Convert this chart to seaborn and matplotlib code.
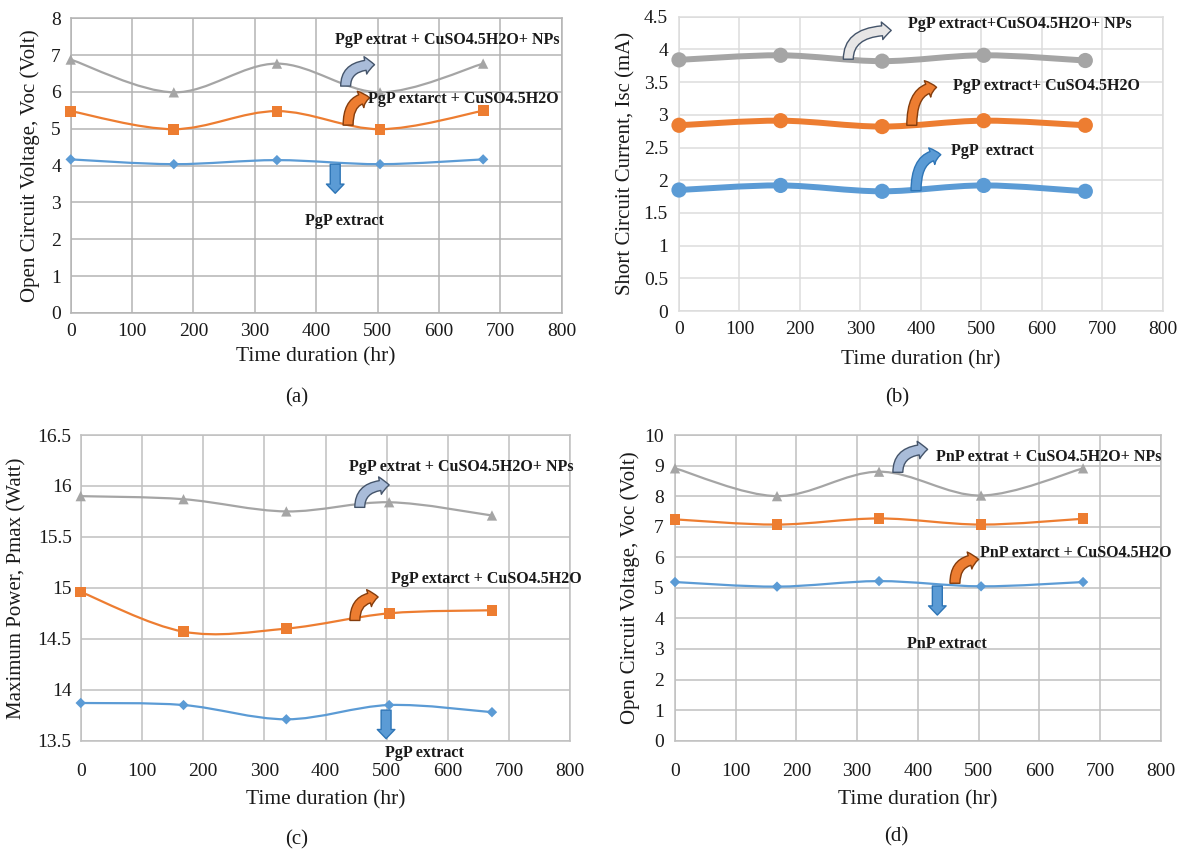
import numpy as np
import pandas as pd
import matplotlib
matplotlib.use("Agg")
import matplotlib.pyplot as plt
import seaborn as sns
from matplotlib.path import Path
from matplotlib.patches import PathPatch
from matplotlib.ticker import FuncFormatter, MultipleLocator

# ---------------- data ----------------
hours = [0, 168, 336, 504, 672]

# (a) PgP open circuit voltage (V)
voc_pgp_extract = [4.17, 4.04, 4.15, 4.04, 4.17]
voc_pgp_cuso4 = [5.48, 4.99, 5.48, 4.99, 5.49]
voc_pgp_nps = [6.88, 5.99, 6.77, 5.99, 6.77]

# (b) PgP short circuit current (mA)
isc_pgp_extract = [1.85, 1.92, 1.83, 1.92, 1.83]
isc_pgp_cuso4 = [2.84, 2.91, 2.82, 2.91, 2.84]
isc_pgp_nps = [3.84, 3.91, 3.82, 3.91, 3.83]

# (c) PgP maximum power (W)
pmax_pgp_extract = [13.87, 13.85, 13.71, 13.85, 13.78]
pmax_pgp_cuso4 = [14.96, 14.57, 14.60, 14.75, 14.78]
pmax_pgp_nps = [15.90, 15.87, 15.75, 15.84, 15.71]

# (d) PnP open circuit voltage (V)
voc_pnp_extract = [5.19, 5.04, 5.22, 5.05, 5.19]
voc_pnp_cuso4 = [7.24, 7.07, 7.27, 7.07, 7.26]
voc_pnp_nps = [8.91, 8.00, 8.80, 8.02, 8.91]

x_ticks = [0, 100, 200, 300, 400, 500, 600, 700, 800]
x_label = "Time duration (hr)"
panel_letters = ["(a)", "(b)", "(c)", "(d)"]

BLUE, ORANGE, GRAY = "#5B9BD5", "#ED7D31", "#A5A5A5"

sns.set_theme(style="whitegrid")
plt.rcParams["font.family"] = ["Liberation Serif", "DejaVu Serif"]
plt.rcParams["text.color"] = "#1a1a1a"
plt.rcParams["axes.labelcolor"] = "#1a1a1a"
plt.rcParams["xtick.color"] = "#1a1a1a"
plt.rcParams["ytick.color"] = "#1a1a1a"

fig = plt.figure(figsize=(11.82, 8.52), dpi=100)
fig.patch.set_facecolor("white")


def smooth_path(xs, ys):
    pts = np.column_stack([xs, ys]).astype(float)
    n = len(pts)
    verts = [pts[0]]
    codes = [Path.MOVETO]
    for i in range(n - 1):
        p0 = pts[max(i - 1, 0)]
        p1 = pts[i]
        p2 = pts[i + 1]
        p3 = pts[min(i + 2, n - 1)]
        c1 = p1 + (p2 - p0) / 6.0
        c2 = p2 - (p3 - p1) / 6.0
        verts += [c1, c2, p2]
        codes += [Path.CURVE4] * 3
    return Path(verts, codes)


def draw_panel(rect, series, ylim, ystep, ylabel, grid_color, ylabel_x, xlabel_y,
               xpad, ypad, lw, marker_map, size_map, annotations, arrows):
    ax = fig.add_axes(rect)
    ax.set_facecolor("white")
    rows = []
    for name, vals, color in series:
        for h, v in zip(hours, vals):
            rows.append({"hours": h, "value": v, "series": name})
        patch = PathPatch(smooth_path(hours, vals), facecolor="none", edgecolor=color,
                          lw=lw, zorder=2, capstyle="round", joinstyle="round",
                          clip_on=False)
        ax.add_patch(patch)
    df = pd.DataFrame(rows)
    palette = {name: color for name, _, color in series}
    sns.scatterplot(data=df, x="hours", y="value", hue="series", style="series",
                    size="series", sizes=size_map, markers=marker_map, palette=palette,
                    linewidth=0, legend=False, ax=ax, zorder=3, clip_on=False)
    ax.set_xlim(0, 800)
    ax.set_ylim(*ylim)
    ax.set_xticks(x_ticks)
    ax.yaxis.set_major_locator(MultipleLocator(ystep))
    ax.yaxis.set_major_formatter(FuncFormatter(lambda v, p: f"{v:g}"))
    ax.grid(True, color=grid_color, lw=1.1)
    for s in ax.spines.values():
        s.set_visible(True)
        s.set_color(grid_color)
        s.set_linewidth(1.1)
    ax.tick_params(axis="x", length=0, pad=xpad, labelsize=14)
    ax.tick_params(axis="y", length=0, pad=ypad, labelsize=14)
    ax.set_xlabel(x_label, fontsize=15.5)
    ax.set_ylabel(ylabel, fontsize=15)
    ax.yaxis.set_label_coords(ylabel_x, 0.5)
    ax.xaxis.set_label_coords(0.5, xlabel_y)
    for (tx, ty, txt) in annotations:
        ax.text(tx, ty, txt, fontsize=11.5, fontweight="bold", ha="left", va="center",
                color="#1a1a1a", zorder=5, clip_on=False)
    for (x0, y0, x1, y1, fc, ec, bent) in arrows:
        cs = "angle3,angleA=90,angleB=0" if bent else "arc3"
        ax.annotate("", xy=(x1, y1), xytext=(x0, y0), zorder=4,
                    arrowprops=dict(arrowstyle="simple,head_length=0.6,head_width=1.15,tail_width=0.65",
                                    connectionstyle=cs, fc=fc, ec=ec, lw=1.0,
                                    mutation_scale=11, shrinkA=0, shrinkB=0),
                    annotation_clip=False)
    return ax


tri_sq_dia = {"nps": "^", "cuso4": "s", "extract": "D"}
sizes_small = {"nps": 55, "cuso4": 60, "extract": 28}

# (a)
draw_panel(
    [70.7 / 1182, 1 - 313 / 852, 491 / 1182, 294.7 / 852],
    [("extract", voc_pgp_extract, BLUE), ("cuso4", voc_pgp_cuso4, ORANGE), ("nps", voc_pgp_nps, GRAY)],
    (0, 8), 1, "Open Circuit Voltage, Voc (Volt)", "#b4b4b4", -0.0625, -0.115,
    7, 7, 1.6, tri_sq_dia, sizes_small,
    [(430, 7.4, "PgP extrat + CuSO4.5H2O+ NPs"),
     (485, 5.8, "PgP extarct + CuSO4.5H2O"),
     (381, 2.5, "PgP extract")],
    [(448, 6.16, 495, 6.74, "#A9BCD9", "#44546A", True),
     (452, 5.10, 487, 5.84, ORANGE, "#843C0C", True),
     (431, 4.04, 431, 3.25, BLUE, "#2E75B6", False)],
)

# (b)
draw_panel(
    [679 / 1182, 1 - 311 / 852, 483.7 / 1182, 294.3 / 852],
    [("extract", isc_pgp_extract, BLUE), ("cuso4", isc_pgp_cuso4, ORANGE), ("nps", isc_pgp_nps, GRAY)],
    (0, 4.5), 0.5, "Short Circuit Current, Isc (mA)", "#dcdcdc", -0.089, -0.133,
    7, 8, 4.3, {"nps": "o", "cuso4": "o", "extract": "o"},
    {"nps": 120, "cuso4": 120, "extract": 120},
    [(379, 4.39, "PgP extract+CuSO4.5H2O+ NPs"),
     (453, 3.44, "PgP extract+ CuSO4.5H2O"),
     (450, 2.45, "PgP  extract")],
    [(280, 3.85, 351, 4.29, "#E7E6E6", "#44546A", True),
     (385, 2.84, 426, 3.42, ORANGE, "#843C0C", True),
     (392, 1.84, 433, 2.39, BLUE, "#2E75B6", True)],
)

# (c)
draw_panel(
    [80.7 / 1182, 1 - 740.7 / 852, 489.6 / 1182, 305.7 / 852],
    [("extract", pmax_pgp_extract, BLUE), ("cuso4", pmax_pgp_cuso4, ORANGE), ("nps", pmax_pgp_nps, GRAY)],
    (13.5, 16.5), 0.5, "Maximum Power, Pmax (Watt)", "#c0c0c0", -0.110, -0.161,
    16, 6.5, 1.6, tri_sq_dia, sizes_small,
    [(439, 16.19, "PgP extrat + CuSO4.5H2O+ NPs"),
     (507, 15.09, "PgP extarct + CuSO4.5H2O"),
     (498, 13.38, "PgP extract")],
    [(456, 15.79, 504, 16.01, "#A9BCD9", "#44546A", True),
     (448, 14.68, 486, 14.91, ORANGE, "#843C0C", True),
     (499, 13.80, 499, 13.52, BLUE, "#2E75B6", False)],
)

# (d)
draw_panel(
    [675 / 1182, 1 - 740.7 / 852, 485.8 / 1182, 305.7 / 852],
    [("extract", voc_pnp_extract, BLUE), ("cuso4", voc_pnp_cuso4, ORANGE), ("nps", voc_pnp_nps, GRAY)],
    (0, 10), 1, "Open Circuit Voltage, Voc (Volt)", "#c0c0c0", -0.072, -0.161,
    16, 8, 1.6, tri_sq_dia, sizes_small,
    [(429, 9.27, "PnP extrat + CuSO4.5H2O+ NPs"),
     (503, 6.13, "PnP extarct + CuSO4.5H2O"),
     (382, 3.16, "PnP extract")],
    [(367, 8.78, 416, 9.53, "#A9BCD9", "#44546A", True),
     (461, 5.15, 500, 5.93, ORANGE, "#843C0C", True),
     (432, 5.06, 432, 4.11, BLUE, "#2E75B6", False)],
)

for (px, py), letter in zip([(297, 398), (897, 398), (297, 840), (896, 837)], panel_letters):
    fig.text(px / 1182, 1 - py / 852, letter, ha="center", va="center", fontsize=15)

fig.savefig("out.png", dpi=100, facecolor="white")
